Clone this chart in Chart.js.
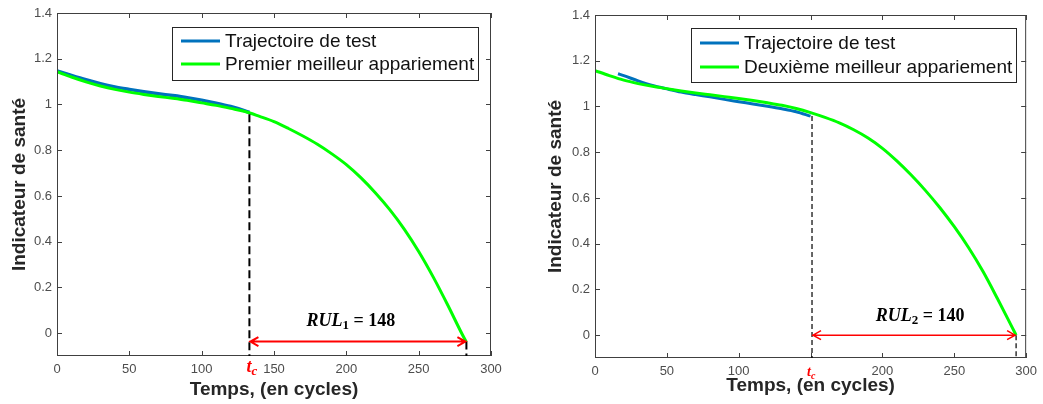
<!DOCTYPE html>
<html>
<head>
<meta charset="utf-8">
<script src="https://cdn.jsdelivr.net/npm/chart.js@4.4.1/dist/chart.umd.min.js"></script>
<style>
body { margin: 0; background: #fff; }
#g1 { position: absolute; left: 0; top: 0; }
#g2 { position: absolute; left: 520px; top: 0; }
</style>
</head>
<body>
<canvas id="g1" width="520" height="404"></canvas>
<canvas id="g2" width="523" height="404"></canvas>
<script>
// graduations communes
const xTicks = [0, 50, 100, 150, 200, 250, 300];
const yTicks = [0, 0.2, 0.4, 0.6, 0.8, 1, 1.2, 1.4];

// graphique 1 : trajectoire de test + premier meilleur appariement
const temps1Test = [0, 10, 20, 30, 40, 50, 60, 70, 80, 90, 100, 110, 120, 130, 133];
const sante1Test = [1.147, 1.127, 1.108, 1.091, 1.077, 1.066, 1.056, 1.047, 1.039, 1.030, 1.019, 1.006, 0.991, 0.972, 0.965];
const temps1App = [0, 10, 20, 30, 40, 50, 60, 70, 80, 90, 100, 110, 120, 130, 140, 150, 160, 170, 180, 190, 200, 210, 220, 230, 240, 250, 260, 270, 280, 283];
const sante1App = [1.143, 1.120, 1.099, 1.081, 1.066, 1.054, 1.044, 1.035, 1.027, 1.018, 1.007, 0.996, 0.983, 0.969, 0.948, 0.925, 0.895, 0.862, 0.826, 0.784, 0.737, 0.680, 0.614, 0.540, 0.455, 0.357, 0.246, 0.124, -0.004, -0.040];

// graphique 2 : trajectoire de test + deuxieme meilleur appariement
const temps2Test = [16, 20, 30, 40, 50, 60, 70, 80, 90, 100, 110, 120, 130, 140, 150];
const sante2Test = [1.143, 1.135, 1.112, 1.092, 1.077, 1.063, 1.052, 1.042, 1.031, 1.021, 1.011, 1.001, 0.990, 0.977, 0.958];
const temps2App = [0, 10, 20, 30, 40, 50, 60, 70, 80, 90, 100, 110, 120, 130, 140, 150, 160, 170, 180, 190, 200, 210, 220, 230, 240, 250, 260, 270, 280, 290, 293];
const sante2App = [1.157, 1.135, 1.115, 1.100, 1.088, 1.078, 1.068, 1.059, 1.051, 1.043, 1.035, 1.026, 1.016, 1.005, 0.991, 0.973, 0.952, 0.928, 0.898, 0.862, 0.817, 0.762, 0.700, 0.632, 0.557, 0.474, 0.382, 0.278, 0.160, 0.037, 0];

// instants critiques et RUL
const tc1 = 133, fin1 = 283, rul1 = 148, fleche1 = -0.037;
const tc2 = 151, fin2 = 293, rul2 = 140, fleche2 = 0;

const police = "'Liberation Sans', Arial, Helvetica, sans-serif";
const serif = "'Liberation Serif', 'DejaVu Serif', serif";

function points(xs, ys) {
    return xs.map((v, i) => ({ x: v, y: ys[i] }));
}

const habillage = {
    id: 'habillage',
    afterDraw(chart, args, o) {
        const ctx = chart.ctx;
        const a = chart.chartArea;
        const x = chart.scales.x, y = chart.scales.y;
        ctx.save();

        // cadre et graduations vers l'interieur
        ctx.strokeStyle = '#404040';
        ctx.lineWidth = 1;
        ctx.strokeRect(a.left + 0.5, a.top + 0.5, a.right - a.left - 1, a.bottom - a.top - 1);
        ctx.beginPath();
        xTicks.forEach(v => {
            const px = Math.round(x.getPixelForValue(v)) + 0.5;
            ctx.moveTo(px, a.bottom); ctx.lineTo(px, a.bottom - 5);
            ctx.moveTo(px, a.top); ctx.lineTo(px, a.top + 5);
        });
        yTicks.forEach(v => {
            const py = Math.round(y.getPixelForValue(v)) + 0.5;
            ctx.moveTo(a.left, py); ctx.lineTo(a.left + 5, py);
            ctx.moveTo(a.right, py); ctx.lineTo(a.right - 5, py);
        });
        ctx.stroke();

        // traits pointilles verticaux
        const xc = x.getPixelForValue(o.tc), xf = x.getPixelForValue(o.fin);
        const yf = y.getPixelForValue(o.fleche);
        ctx.strokeStyle = '#000';
        ctx.lineWidth = o.epDash;
        ctx.setLineDash(o.dash);
        ctx.beginPath();
        ctx.moveTo(xc, y.getPixelForValue(o.haut));
        ctx.lineTo(xc, a.bottom);
        ctx.moveTo(xf, yf);
        ctx.lineTo(xf, a.bottom);
        ctx.stroke();
        ctx.setLineDash([]);

        // fleche double rouge
        ctx.strokeStyle = '#ff0000';
        ctx.lineWidth = o.epFleche;
        ctx.beginPath();
        ctx.moveTo(xc, yf); ctx.lineTo(xf, yf);
        ctx.moveTo(xc + 9, yf - 4.5); ctx.lineTo(xc + 1, yf); ctx.lineTo(xc + 9, yf + 4.5);
        ctx.moveTo(xf - 9, yf - 4.5); ctx.lineTo(xf - 1, yf); ctx.lineTo(xf - 9, yf + 4.5);
        ctx.stroke();

        // RUL
        const t = o.tailleRul;
        const parts = [
            { s: 'RUL', f: 'italic bold ' + t + 'px ' + serif, dy: 0 },
            { s: o.indice, f: 'bold ' + Math.round(t * 0.72) + 'px ' + serif, dy: 3 },
            { s: ' = ' + o.rul, f: 'bold ' + t + 'px ' + serif, dy: 0 }
        ];
        let w = 0;
        parts.forEach(p => { ctx.font = p.f; p.w = ctx.measureText(p.s).width; w += p.w; });
        let px = (xc + xf) / 2 + o.rulDx - w / 2;
        ctx.fillStyle = '#000';
        ctx.textBaseline = 'alphabetic';
        parts.forEach(p => {
            ctx.font = p.f;
            ctx.fillText(p.s, px, yf - o.rulDy + p.dy);
            px += p.w;
        });

        // etiquette t_c
        ctx.fillStyle = '#ff0000';
        ctx.font = 'italic bold ' + o.tailleTc + 'px ' + serif;
        const xt = xc + o.tcDx;
        ctx.fillText('t', xt, o.tcY);
        const wt = ctx.measureText('t').width;
        ctx.font = 'italic bold ' + Math.round(o.tailleTc * 0.72) + 'px ' + serif;
        ctx.fillText('c', xt + wt, o.tcY + 3);

        // legende
        const L = o.legende;
        ctx.fillStyle = '#fff';
        ctx.fillRect(L.x0, L.y0, L.x1 - L.x0, L.y1 - L.y0);
        ctx.strokeStyle = '#262626';
        ctx.lineWidth = 1;
        ctx.strokeRect(L.x0 + 0.5, L.y0 + 0.5, L.x1 - L.x0, L.y1 - L.y0);
        ctx.font = L.taille + 'px ' + police;
        ctx.textBaseline = 'middle';
        chart.data.datasets.slice().reverse().forEach((d, i) => {
            const ly = L.y0 + L.rangs[i];
            ctx.strokeStyle = d.borderColor;
            ctx.lineWidth = 3;
            ctx.beginPath();
            ctx.moveTo(L.x0 + 9, ly); ctx.lineTo(L.x0 + 48, ly);
            ctx.stroke();
            ctx.fillStyle = '#111';
            ctx.fillText(d.label, L.x0 + 53, ly + 1);
        });
        ctx.restore();
    }
};

function graphique(id, test, app, nomApp, cfg) {
    new Chart(document.getElementById(id), {
        type: 'line',
        data: {
            datasets: [
                { label: nomApp, data: app, borderColor: '#00ff00', borderWidth: 3, pointRadius: 0, tension: 0.4, cubicInterpolationMode: 'monotone', order: 1 },
                { label: 'Trajectoire de test', data: test, borderColor: '#0072bd', borderWidth: cfg.epBleu, pointRadius: 0, tension: 0.4, cubicInterpolationMode: 'monotone', order: 2 }
            ]
        },
        options: {
            responsive: false,
            animation: false,
            layout: { padding: { left: 0, top: cfg.haut0, right: cfg.droite, bottom: 0 } },
            plugins: { legend: { display: false }, tooltip: { enabled: false }, habillage: cfg },
            scales: {
                x: {
                    type: 'linear', min: 0, max: 300,
                    afterBuildTicks: s => { s.ticks = xTicks.map(v => ({ value: v })); },
                    afterFit: s => { s.height = cfg.hautX; },
                    grid: { display: false, drawTicks: false },
                    border: { display: false },
                    ticks: {
                        padding: 6, color: '#4d4d4d', maxRotation: 0, autoSkip: false,
                        font: { family: police, size: 13 },
                        callback: v => cfg.cache.includes(v) ? '' : String(v)
                    },
                    title: {
                        display: true, text: 'Temps, (en cycles)', color: '#262626',
                        font: { family: police, size: 19, weight: 'bold' },
                        padding: { top: 0, bottom: cfg.titreX }
                    }
                },
                y: {
                    type: 'linear', min: -0.1, max: 1.4,
                    afterBuildTicks: s => { s.ticks = yTicks.map(v => ({ value: v })); },
                    afterFit: s => { s.width = cfg.largY; },
                    grid: { display: false, drawTicks: false },
                    border: { display: false },
                    ticks: {
                        padding: 5, color: '#4d4d4d',
                        font: { family: police, size: 13 },
                        callback: v => String(+v.toFixed(1))
                    },
                    title: {
                        display: true, text: 'Indicateur de santé', color: '#262626',
                        font: { family: police, size: 19, weight: 'bold' },
                        padding: { top: cfg.titreY, bottom: 0 }
                    }
                }
            }
        },
        plugins: [habillage]
    });
}

graphique('g1', points(temps1Test, sante1Test), points(temps1App, sante1App), 'Premier meilleur appariement', {
    haut0: 13, droite: 29, hautX: 48, largY: 57, titreX: 3, titreY: 8, epBleu: 3.5,
    cache: [],
    tc: tc1, fin: fin1, fleche: fleche1, haut: sante1Test[sante1Test.length - 1] - 0.008,
    rul: rul1, indice: '1', tailleRul: 18, rulDx: -7, rulDy: 16,
    epDash: 2, dash: [8, 4], epFleche: 2,
    tailleTc: 18, tcDx: -3, tcY: 372,
    legende: { x0: 172, y0: 27, x1: 478, y1: 80, taille: 19, rangs: [14, 37] }
});

graphique('g2', points(temps2Test, sante2Test), points(temps2App, sante2App), 'Deuxième meilleur appariement', {
    haut0: 15, droite: 14, hautX: 46, largY: 75, titreX: 7, titreY: 24, epBleu: 3,
    cache: [150],
    tc: tc2, fin: fin2, fleche: fleche2, haut: sante2Test[sante2Test.length - 1],
    rul: rul2, indice: '2', tailleRul: 18, rulDx: 6, rulDy: 14,
    epDash: 1.2, dash: [5, 3], epFleche: 1.5,
    tailleTc: 14, tcDx: -5, tcY: 376,
    legende: { x0: 171, y0: 28, x1: 496, y1: 82, taille: 19, rangs: [15, 39] }
});
</script>
</body>
</html>
